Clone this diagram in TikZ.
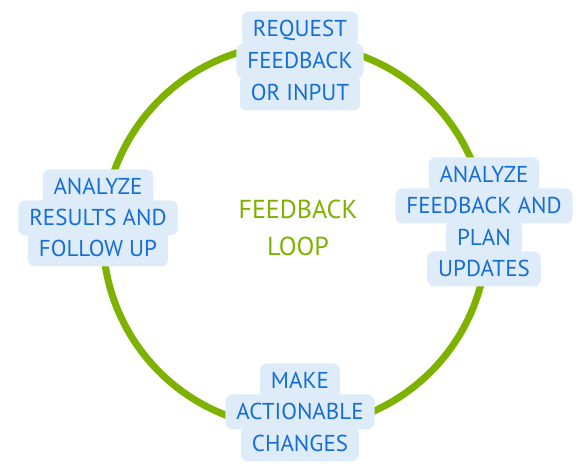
\documentclass[tikz,border=0pt]{standalone}
\usepackage{fontspec}
\setmainfont{PT Sans}
\definecolor{loopGreen}{RGB}{126,178,0}
\definecolor{stepFill}{RGB}{222,236,249}
\definecolor{stepText}{RGB}{22,110,212}

\begin{document}
\begin{tikzpicture}[x=1pt, y=1pt,
  stepline/.style={fill=stepFill, text=stepText, rounded corners=7pt, inner xsep=11pt, inner ysep=0pt, minimum height=35pt, text height=16pt, text depth=0pt, font=\fontsize{23}{27}\selectfont},
  hub/.style={text=loopGreen, inner sep=0pt, text height=18pt, text depth=0pt, font=\fontsize{26}{30}\selectfont}]
            \useasboundingbox (0,0) rectangle (584,474);
            \coordinate (c) at (295,238);
            \draw[loopGreen, line width=7pt] (c) circle[radius=192];

            \node[stepline] (req1) at (300,445) {REQUEST};
            \node[stepline] (req2) at (300,413) {FEEDBACK};
            \node[stepline] (req3) at (300,381) {OR INPUT};

            \node[stepline] (ana1) at (484,299) {ANALYZE};
            \node[stepline] (ana2) at (484,268) {FEEDBACK AND};
            \node[stepline] (ana3) at (484,236) {PLAN};
            \node[stepline] (ana4) at (484,205) {UPDATES};

            \node[stepline] (mak1) at (300,93) {MAKE};
            \node[stepline] (mak2) at (300,62) {ACTIONABLE};
            \node[stepline] (mak3) at (300,30) {CHANGES};

            \node[stepline] (res1) at (98,287) {ANALYZE};
            \node[stepline] (res2) at (98,256) {RESULTS AND};
            \node[stepline] (res3) at (98,225) {FOLLOW UP};

            \node[hub] (hub1) at (298,264) {FEEDBACK};
            \node[hub] (hub2) at (298,227) {LOOP};
        \end{tikzpicture}
\end{document}
